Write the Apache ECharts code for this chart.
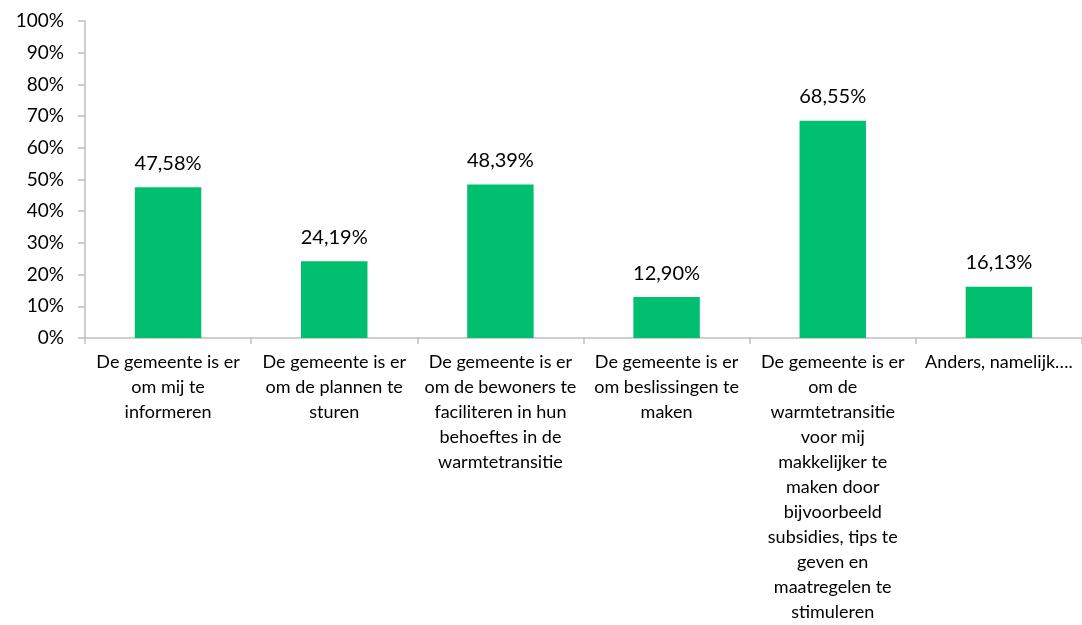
<!DOCTYPE html>
<html>
<head>
<meta charset="utf-8">
<script src="https://cdn.jsdelivr.net/npm/echarts@6/dist/echarts.min.js"></script>
<style>
  html, body { margin: 0; padding: 0; background: #fff; }
  #chart { width: 1082px; height: 625px; }
</style>
</head>
<body>
<div id="chart"></div>
<script>
// antwoordcategorieën, zoals ze in de grafiek afgebroken staan
const categories = [
  'De gemeente is er\nom mij te\ninformeren',
  'De gemeente is er\nom de plannen te\nsturen',
  'De gemeente is er\nom de bewoners te\nfaciliteren in hun\nbehoeftes in de\nwarmtetransitie',
  'De gemeente is er\nom beslissingen te\nmaken',
  'De gemeente is er\nom de\nwarmtetransitie\nvoor mij\nmakkelijker te\nmaken door\nbijvoorbeeld\nsubsidies, tips te\ngeven en\nmaatregelen te\nstimuleren',
  'Anders, namelijk….'
]
const percentages = [47.58, 24.19, 48.39, 12.90, 68.55, 16.13]
const yTicks = [0, 10, 20, 30, 40, 50, 60, 70, 80, 90, 100]

const font = 'Lato, "Open Sans", sans-serif'
const chart = echarts.init(document.getElementById('chart'))
chart.setOption({
  animation: false,
  textStyle: { fontFamily: font },
  grid: { left: 85, right: -3, top: 21, bottom: 284, containLabel: false },
  xAxis: {
    type: 'category',
    data: categories,
    axisLine: { lineStyle: { color: '#bfbfbf', width: 1.5 } },
    axisTick: { show: true, length: 6, lineStyle: { color: '#bfbfbf', width: 1.5 } },
    axisLabel: {
      interval: 0, margin: 12, color: '#000', fontSize: 18, lineHeight: 25,
      fontFamily: font, align: 'center'
    }
  },
  yAxis: {
    type: 'value',
    min: yTicks[0], max: yTicks[yTicks.length - 1], interval: 10,
    splitLine: { show: false },
    axisLine: { show: true, lineStyle: { color: '#bfbfbf', width: 1.5 } },
    axisTick: { show: true, length: 7, lineStyle: { color: '#bfbfbf', width: 1.5 } },
    axisLabel: { color: '#000', fontSize: 19, margin: 21, fontFamily: font, formatter: v => v + '%' }
  },
  series: [{
    type: 'bar',
    data: percentages,
    barWidth: '40%',
    itemStyle: { color: '#00BF6F' },
    label: {
      show: true, position: 'top', distance: 14, color: '#000', fontSize: 20, fontFamily: font,
      formatter: p => p.value.toFixed(2).replace('.', ',') + '%'
    }
  }]
})
</script>
</body>
</html>
